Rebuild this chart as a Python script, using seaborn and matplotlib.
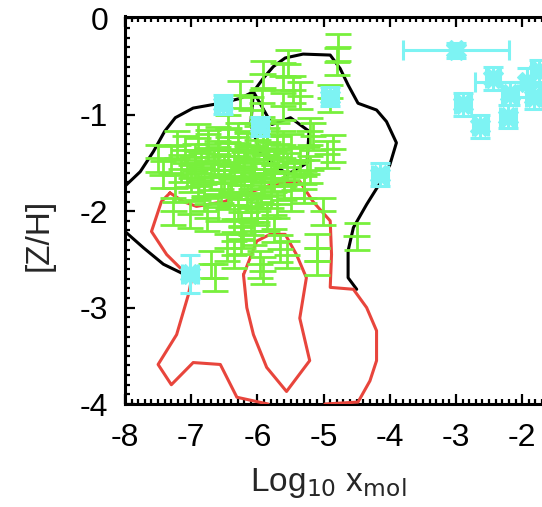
import numpy as np
import pandas as pd
import matplotlib
matplotlib.use("Agg")
import matplotlib.pyplot as plt
import seaborn as sns
from matplotlib.ticker import MultipleLocator

# ---------------- data ----------------
# black contour (outer)
black_x = [-7.09, -7.42, -7.72, -8.0, -8.2, -8.2, -8.0, -7.77, -7.57, -7.40, -7.24, -6.97, -6.56, -6.26,
           -6.06, -5.91, -5.76, -5.58, -5.31, -4.90, -4.75, -4.63, -4.48, -4.20, -4.05, -3.90, -4.00,
           -4.15, -4.35, -4.55, -4.63, -4.63, -4.50]
black_y = [-2.66, -2.55, -2.38, -2.21, -2.05, -1.90, -1.74, -1.59, -1.38, -1.17, -1.03, -0.93, -0.88, -0.83,
           -0.76, -0.62, -0.50, -0.41, -0.37, -0.38, -0.52, -0.69, -0.88, -0.95, -1.07, -1.29, -1.52,
           -1.71, -1.93, -2.17, -2.41, -2.69, -2.81]
# black inner contour (mostly hidden)
black_in_x = [-6.06, -5.78, -5.50, -5.22, -5.25, -5.55, -5.95, -6.10, -6.06]
black_in_y = [-0.76, -1.10, -1.03, -1.17, -1.50, -1.62, -1.40, -1.10, -0.76]

# red contour (outer)
red_x = [-7.32, -7.12, -6.92, -6.50, -6.14, -5.76, -5.36, -5.16, -4.90, -4.88, -4.90, -4.55, -4.35,
         -4.20, -4.20, -4.30, -4.48, -4.98, -5.10, -5.70, -5.84, -6.31, -6.56, -6.97, -7.30, -7.50,
         -7.22, -7.04, -6.99, -7.12, -7.37, -7.60, -7.45, -7.32]
red_y = [-1.81, -1.90, -1.95, -1.90, -1.81, -1.72, -1.69, -1.90, -2.10, -2.45, -2.79, -2.81, -3.00,
         -3.24, -3.55, -3.76, -3.98, -4.00, -4.20, -4.20, -4.00, -3.93, -3.59, -3.57, -3.80, -3.59,
         -3.28, -2.86, -2.69, -2.62, -2.45, -2.21, -1.90, -1.81]
# red inner contour
red_in_x = [-6.21, -6.01, -5.81, -5.58, -5.41, -5.26, -5.36, -5.21, -5.56, -5.86, -6.06, -6.16, -6.21]
red_in_y = [-2.66, -2.31, -2.24, -2.24, -2.45, -2.69, -3.11, -3.55, -3.87, -3.62, -3.28, -3.00, -2.66]

# green points
green_x = [-4.78, -4.80, -5.54, -5.62, -5.92, -5.46, -5.36, -4.90, -5.61, -5.93, -6.26, -6.10,
           -5.21, -5.92, -4.86, -5.61, -6.44, -5.16, -5.25, -4.95, -5.30,
           -4.50, -5.01, -5.10, -5.10, -5.55, -5.66, -5.92, -5.96, -6.64, -6.46, -6.22, -6.76,
           -7.02, -7.27, -7.43, -7.06, -7.21, -7.50, -6.35, -6.25, -6.70,
           -6.90, -6.60, -6.30, -6.00, -5.70,
           -7.10, -6.75, -6.45, -6.15, -5.85, -5.50,
           -7.30, -6.95, -6.60, -6.30, -6.05, -5.70, -5.35,
           -7.15, -6.85, -6.50, -6.20, -5.90, -5.55, -5.20,
           -7.00, -6.70, -6.40, -6.10, -5.75, -5.45,
           -7.25, -6.90, -6.55, -6.25, -5.95, -5.60, -5.30,
           -6.80, -6.45, -6.15, -5.80, -5.50,
           -6.60, -6.30, -6.00, -5.70,
           -6.35, -6.10, -5.85,
           -6.05, -5.75,
           -6.75, -6.45, -6.15, -5.85, -6.95, -6.65, -6.35, -6.05, -5.75,
           -6.80, -6.50, -6.20, -5.90, -6.40, -6.10, -6.25, -5.80, -6.00]
green_y = [-0.30, -0.45, -0.47, -0.60, -0.58, -0.74, -0.80, -0.83, -0.91, -0.88, -0.79, -0.95,
           -1.17, -1.20, -1.35, -1.31, -1.14, -1.22, -1.47, -1.41, -1.72,
           -2.26, -2.00, -2.38, -2.52, -2.45, -2.39, -2.62, -2.55, -2.69, -2.38, -2.24, -2.07,
           -2.03, -2.00, -1.62, -1.61, -1.31, -1.45, -2.45, -2.15, -2.55,
           -1.24, -1.27, -1.23, -1.26, -1.22,
           -1.36, -1.34, -1.37, -1.33, -1.36, -1.34,
           -1.46, -1.44, -1.47, -1.43, -1.46, -1.44, -1.47,
           -1.56, -1.54, -1.57, -1.53, -1.56, -1.54, -1.57,
           -1.66, -1.64, -1.67, -1.63, -1.66, -1.64,
           -1.76, -1.74, -1.77, -1.73, -1.76, -1.74, -1.77,
           -1.86, -1.84, -1.87, -1.83, -1.86,
           -1.96, -1.94, -1.97, -1.93,
           -2.08, -2.11, -2.07,
           -2.21, -2.18,
           -1.30, -1.29, -1.31, -1.28, -1.50, -1.51, -1.49, -1.50, -1.52,
           -1.70, -1.71, -1.69, -1.70, -1.80, -1.81, -2.30, -1.60, -2.00]

# cyan points
cyan_x = [-3.00, -2.44, -2.89, -2.63, -2.18, -2.22, -1.92, -1.82, -1.75,
          -6.52, -5.96, -4.90, -4.15, -7.02]
cyan_y = [-0.33, -0.62, -0.89, -1.12, -0.78, -1.02, -0.66, -0.82, -0.55,
          -0.89, -1.12, -0.81, -1.62, -2.65]
cyan_xerr = [0.80, 0.10, 0.12, 0.12, 0.12, 0.12, 0.79, 0.12, 0.12,
             0.12, 0.12, 0.12, 0.12, 0.12]
cyan_yerr = [0.08, 0.12, 0.12, 0.12, 0.12, 0.12, 0.15, 0.12, 0.12,
             0.10, 0.10, 0.10, 0.12, 0.20]

xticks = [-8, -7, -6, -5, -4, -3, -2]
yticks = [0, -1, -2, -3, -4]

# ---------------- plot ----------------
sns.set_style("ticks")
plt.rcParams['font.family'] = ['Liberation Sans', 'DejaVu Sans']
plt.rcParams['axes.unicode_minus'] = False

fig = plt.figure(figsize=(5.42, 5.07), dpi=100)
ax = fig.add_axes([125/542, 103/507, 435/542, 387.5/507])

GREEN = '#78F03C'
RED = '#E8453C'
CYAN = '#7DF3F3'

def path(xs, ys, color, lw=2.2, z=2):
    df = pd.DataFrame({'x': xs, 'y': ys})
    sns.lineplot(data=df, x='x', y='y', sort=False, estimator=None, color=color,
                 linewidth=lw, ax=ax, zorder=z)

path(black_x, black_y, 'black', z=2)
path(black_in_x, black_in_y, 'black', z=2)
path(red_x, red_y, RED, z=3)
path(red_in_x, red_in_y, RED, z=3)

# green: horizontal bar without caps, vertical bar with caps
ax.errorbar(green_x, green_y, xerr=0.2, fmt='none', ecolor=GREEN,
            elinewidth=2.0, capsize=0, zorder=4)
ax.errorbar(green_x, green_y, yerr=0.14, fmt='none', ecolor=GREEN,
            elinewidth=2.0, capsize=9.5, capthick=2.0, zorder=4)

ax.errorbar(cyan_x, cyan_y, xerr=cyan_xerr, fmt='none', ecolor=CYAN,
            elinewidth=2.2, capsize=7, capthick=2.2, zorder=5)
ax.errorbar(cyan_x, cyan_y, yerr=cyan_yerr, fmt='none', ecolor=CYAN,
            elinewidth=2.2, capsize=7, capthick=2.2, zorder=5)
sns.scatterplot(x=cyan_x, y=cyan_y, marker='X', s=200, color=CYAN, edgecolor=CYAN,
                linewidth=1, ax=ax, zorder=6)

ax.set_xlim(-8, -8 + 435/66.2)
ax.set_ylim(-4.0, 0.02)
ax.set_xticks(xticks)
ax.set_yticks(yticks)
ax.set_xticklabels([str(v) for v in xticks])
ax.set_yticklabels([str(v) for v in yticks])
ax.xaxis.set_minor_locator(MultipleLocator(0.1))
ax.yaxis.set_minor_locator(MultipleLocator(0.1))
ax.tick_params(which='both', direction='in', top=True, right=True, width=1.6, colors='black')
ax.tick_params(which='major', length=7, labelsize=23)
ax.tick_params(which='minor', length=3.5)
ax.tick_params(axis='x', which='major', pad=14)
ax.tick_params(axis='y', which='major', pad=12)
for sp in ax.spines.values():
    sp.set_linewidth(2.2)
    sp.set_color('black')

ax.set_xlabel(r'Log$_{10}$ x$_{\rm mol}$', fontsize=24)
ax.set_ylabel('[Z/H]', fontsize=24)
ax.xaxis.set_label_coords((328 - 125) / 435, (404 - 483) / 387.5)
ax.yaxis.set_label_coords((39 - 125) / 435, (404 - 235) / 387.5)
ax.xaxis.label.set_va('center')
ax.yaxis.label.set_va('center')

fig.savefig('out.png', dpi=100)
